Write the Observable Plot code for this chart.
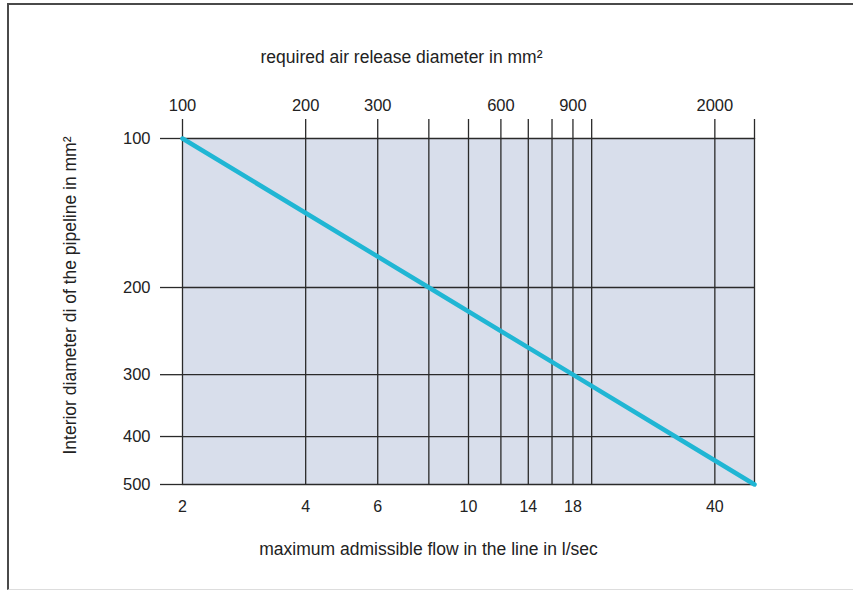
<!DOCTYPE html>
<html>
<head>
<meta charset="utf-8">
<script src="https://cdn.jsdelivr.net/npm/d3@7"></script>
<script src="https://cdn.jsdelivr.net/npm/@observablehq/plot@0.6"></script>
<style>
  html, body { margin: 0; padding: 0; background: #fff; overflow: hidden; }
  #wrap { position: relative; width: 853px; height: 591px; }
  #border { position: absolute; left: 7px; top: 3px; width: 900px; height: 584px;
            border-top: 2px solid #4a4a4a; border-left: 2px solid #4a4a4a; border-bottom: 1px solid #ddd; }
  #chart { position: absolute; left: 0; top: 0; }
</style>
</head>
<body>
<div id="wrap"><div id="border"></div><div id="chart"></div></div>
<script>
// Pipeline interior diameter (mm) and corresponding max admissible flow (l/s)
const diameters = [100, 200, 300, 400, 500];
const flows = [2, 8, 18, 32, 50];

// Bottom axis (flow l/s): grid lines and labelled ticks
const gridFlows = [2, 4, 6, 8, 10, 12, 14, 16, 18, 20, 40, 50];
const bottomLabels = [2, 4, 6, 10, 14, 18, 40];

// Top axis (required air release area, mm²): ticks and labels
const topTicks = [100, 200, 300, 400, 500, 600, 700, 800, 900, 1000, 2000, 2500];
const topLabels = [100, 200, 300, 400, 600, 900, 2000];
const areaPerFlow = 50; // mm² per l/s on the nomogram

// Left axis (interior diameter)
const yTicks = [100, 200, 300, 400, 500];

const topTitle = "required air release diameter in mm²";
const bottomTitle = "maximum admissible flow in the line in l/sec";
const leftTitle = "Interior diameter di of the pipeline in mm²";

const data = diameters.map((d, i) => ({d, q: flows[i]}));
const gridColor = "#2a2a2a";
const textColor = "#222";

const chart = Plot.plot({
  width: 853,
  height: 591,
  marginLeft: 182,
  marginRight: 99,
  marginTop: 138,
  marginBottom: 107,
  x: {type: "log", domain: [2, 50]},
  y: {type: "log", domain: [100, 500], reverse: true},
  style: {fontFamily: "'Liberation Sans', Arial, sans-serif", fontSize: "16px", color: textColor, background: "transparent"},
  marks: [
    Plot.frame({fill: "#d8deeb", stroke: null}),
    Plot.ruleX(gridFlows, {stroke: gridColor, strokeWidth: 1.3}),
    Plot.ruleY(yTicks, {stroke: gridColor, strokeWidth: 1.3}),
    Plot.axisX({
      anchor: "top",
      ticks: topTicks.map(a => a / areaPerFlow),
      tickSize: 20,
      tickPadding: 8,
      stroke: gridColor,
      strokeWidth: 1.3,
      fontSize: 16.5,
      label: null,
      tickFormat: v => {
        const a = Math.round(v * areaPerFlow);
        return topLabels.includes(a) ? String(a) : "";
      }
    }),
    Plot.axisX({
      anchor: "bottom",
      ticks: bottomLabels,
      tickSize: 0,
      tickPadding: 16,
      fontSize: 16,
      label: null,
      tickFormat: v => String(v)
    }),
    Plot.axisY({
      ticks: yTicks,
      tickSize: 22,
      tickPadding: 10,
      stroke: gridColor,
      strokeWidth: 1.3,
      fontSize: 16.5,
      label: null,
      tickFormat: v => String(v)
    }),
    Plot.line(data, {x: "q", y: "d", stroke: "#20b6d4", strokeWidth: 4.5}),
    Plot.text([topTitle], {frameAnchor: "top", textAnchor: "middle", lineAnchor: "middle", dx: -67, dy: -81, fontSize: 17.5, fill: textColor}),
    Plot.text([bottomTitle], {frameAnchor: "bottom", textAnchor: "middle", lineAnchor: "middle", dx: -40, dy: 65, fontSize: 17.5, fill: textColor}),
    Plot.text([leftTitle], {frameAnchor: "left", textAnchor: "middle", lineAnchor: "middle", dx: -112, dy: -16, rotate: -90, fontSize: 17.5, fill: textColor})
  ]
});
document.getElementById("chart").append(chart);
</script>
</body>
</html>
